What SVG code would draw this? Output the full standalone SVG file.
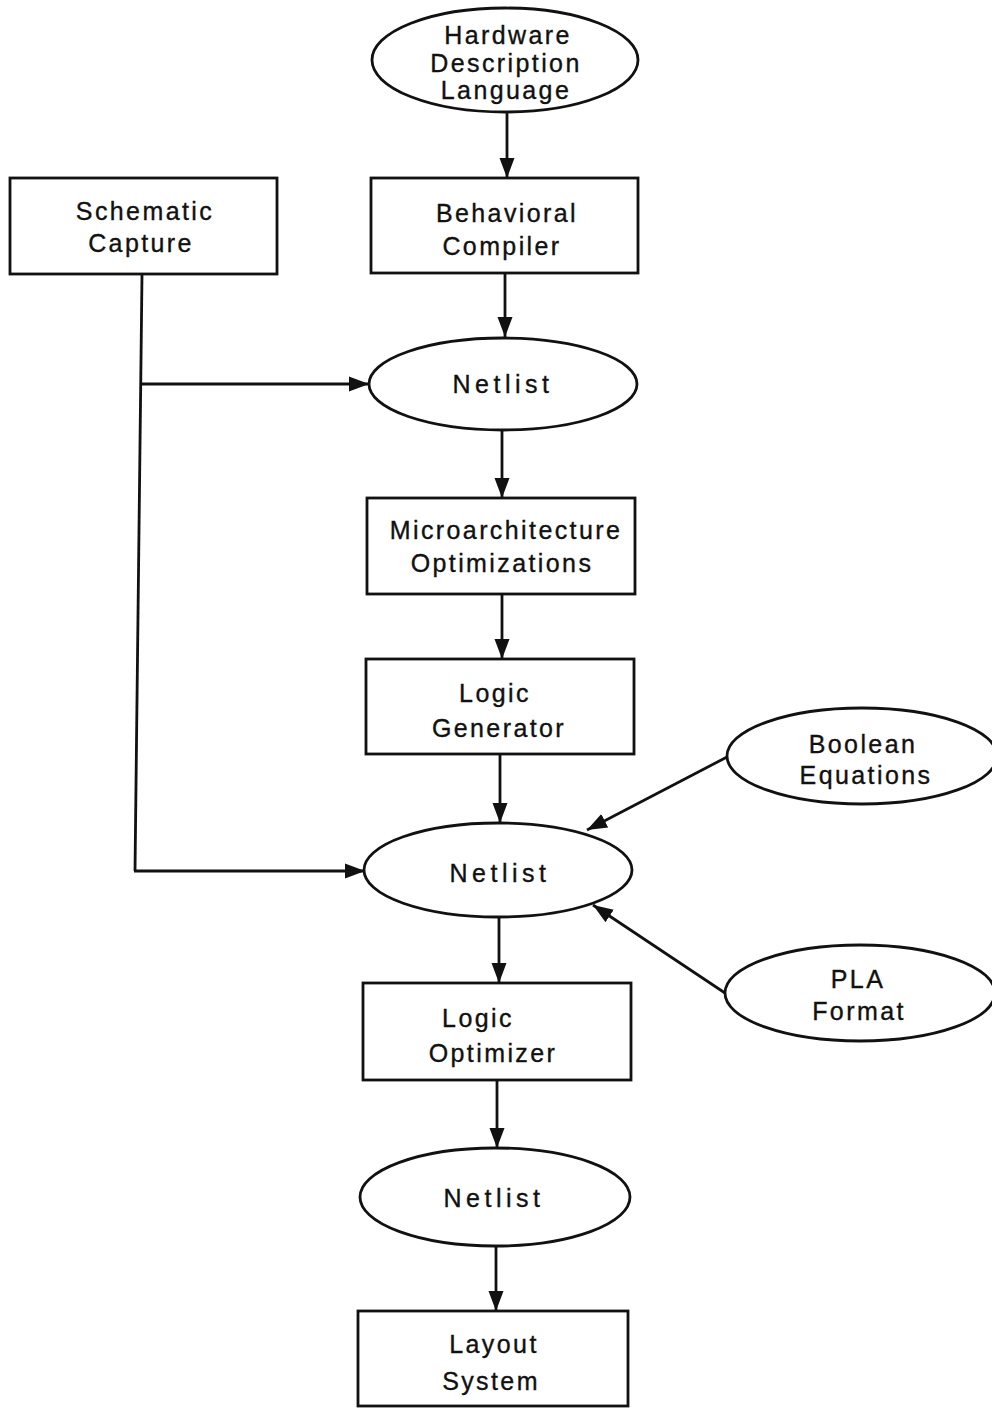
<svg xmlns="http://www.w3.org/2000/svg" width="992" height="1408" viewBox="0 0 992 1408">
  <style>
    .shape { fill: #ffffff; stroke: #111111; stroke-width: 2.8; }
    .wire { fill: none; stroke: #111111; stroke-width: 2.8; }
    .arrow { marker-end: url(#head); }
    text { font-family: "Liberation Sans", Arial, sans-serif; font-size: 25px; fill: #111111; stroke: #111111; stroke-width: 0.35; text-anchor: middle; letter-spacing: 2.4px; }
    text.wide { letter-spacing: 4.5px; }
  </style>
  <defs>
    <marker id="head" markerUnits="userSpaceOnUse" markerWidth="22" markerHeight="18" viewBox="0 0 22 18" refX="20" refY="9" orient="auto">
      <path d="M0,1.5 L20,9 L0,16.5 z" fill="#111111"/>
    </marker>
  </defs>
  <rect width="992" height="1408" fill="#ffffff"/>

  <!-- connectors -->
  <g id="connectors">
    <line class="wire arrow" x1="507" y1="112" x2="507" y2="178"/>
    <line class="wire arrow" x1="505" y1="273" x2="505" y2="337"/>
    <line class="wire arrow" x1="502" y1="430" x2="502" y2="498"/>
    <line class="wire arrow" x1="502" y1="594" x2="502" y2="659"/>
    <line class="wire arrow" x1="500" y1="754" x2="500" y2="823"/>
    <line class="wire arrow" x1="499" y1="917" x2="499" y2="983"/>
    <line class="wire arrow" x1="497" y1="1080" x2="497" y2="1148"/>
    <line class="wire arrow" x1="496" y1="1246" x2="496" y2="1311"/>
    <!-- schematic capture feed into both netlists -->
    <line class="wire" x1="142" y1="275" x2="135" y2="871"/>
    <line class="wire arrow" x1="141" y1="384" x2="369" y2="384"/>
    <line class="wire arrow" x1="134" y1="871" x2="365" y2="871"/>
    <!-- side inputs -->
    <line class="wire arrow" x1="727" y1="757" x2="587" y2="830"/>
    <line class="wire arrow" x1="725" y1="993" x2="593" y2="905"/>
  </g>

  <g id="hdl">
    <ellipse class="shape" cx="505" cy="60" rx="133" ry="52"/>
    <text x="508" y="44">Hardware</text>
    <text x="506" y="72">Description</text>
    <text x="506" y="99">Language</text>
  </g>

  <g id="schematic-capture">
    <rect class="shape" x="10" y="178" width="267" height="96"/>
    <text x="145" y="220">Schematic</text>
    <text x="141" y="252">Capture</text>
  </g>

  <g id="behavioral-compiler">
    <rect class="shape" x="371" y="178" width="267" height="95"/>
    <text x="507" y="222">Behavioral</text>
    <text x="502" y="255">Compiler</text>
  </g>

  <g id="netlist-1">
    <ellipse class="shape" cx="503" cy="384" rx="134" ry="46"/>
    <text class="wide" x="503" y="393">Netlist</text>
  </g>

  <g id="microarchitecture">
    <rect class="shape" x="367" y="498" width="268" height="96"/>
    <text x="506" y="539">Microarchitecture</text>
    <text x="502" y="572">Optimizations</text>
  </g>

  <g id="logic-generator">
    <rect class="shape" x="366" y="659" width="268" height="95"/>
    <text x="495" y="702">Logic</text>
    <text x="499" y="737">Generator</text>
  </g>

  <g id="boolean-equations">
    <ellipse class="shape" cx="862" cy="756" rx="135" ry="48"/>
    <text x="863" y="753">Boolean</text>
    <text x="866" y="784">Equations</text>
  </g>

  <g id="netlist-2">
    <ellipse class="shape" cx="498" cy="870" rx="134" ry="47"/>
    <text class="wide" x="500" y="882">Netlist</text>
  </g>

  <g id="pla-format">
    <ellipse class="shape" cx="860" cy="993" rx="135" ry="48"/>
    <text x="858" y="988">PLA</text>
    <text x="859" y="1020">Format</text>
  </g>

  <g id="logic-optimizer">
    <rect class="shape" x="363" y="983" width="268" height="97"/>
    <text x="478" y="1027">Logic</text>
    <text x="493" y="1062">Optimizer</text>
  </g>

  <g id="netlist-3">
    <ellipse class="shape" cx="495" cy="1197" rx="135" ry="49"/>
    <text class="wide" x="494" y="1207">Netlist</text>
  </g>

  <g id="layout-system">
    <rect class="shape" x="358" y="1311" width="270" height="95"/>
    <text x="494" y="1353">Layout</text>
    <text x="491" y="1390">System</text>
  </g>
</svg>
